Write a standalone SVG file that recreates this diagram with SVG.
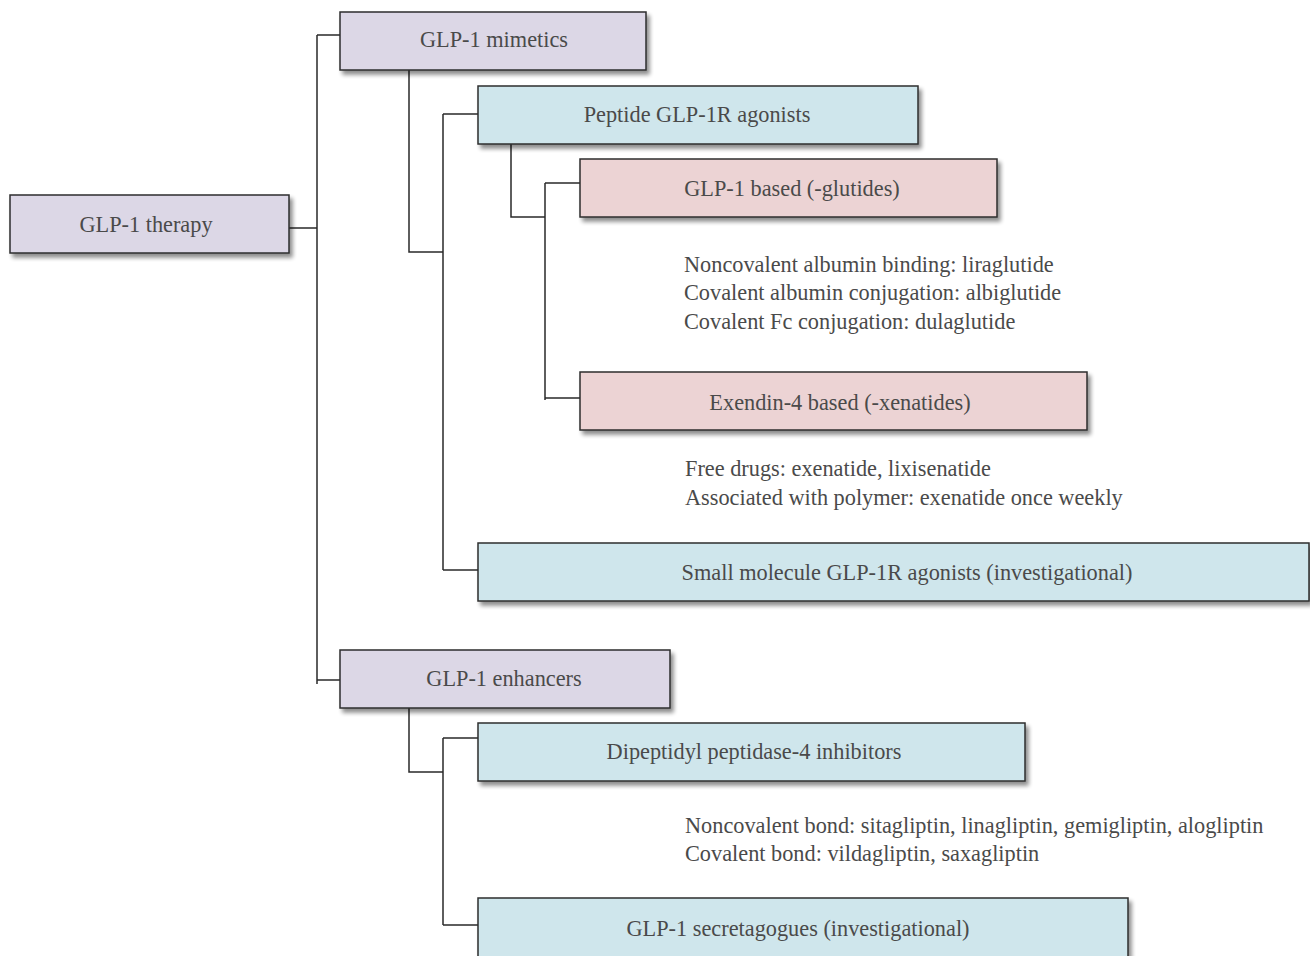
<svg xmlns="http://www.w3.org/2000/svg" width="1310" height="956" viewBox="0 0 1310 956">
<defs>
<filter id="sh" x="-5%" y="-20%" width="115%" height="160%">
<feGaussianBlur in="SourceAlpha" stdDeviation="2"/>
<feOffset dx="3" dy="4" result="b"/>
<feComponentTransfer><feFuncA type="linear" slope="0.45"/></feComponentTransfer>
<feMerge><feMergeNode/><feMergeNode in="SourceGraphic"/></feMerge>
</filter>
</defs>
<style>
.box{stroke:#2e2e2e;stroke-width:1.5;filter:url(#sh)}
.lav{fill:#dcd7e6}
.blu{fill:#cfe6ec}
.pnk{fill:#ecd3d4}
.t{font-family:"Liberation Serif","Times New Roman",serif;font-size:22.3px;fill:#4a4a4a}
.c{text-anchor:middle}
.ln{stroke:#2a2a2a;stroke-width:1.5;fill:none}
</style>
<rect width="1310" height="956" fill="#ffffff"/>
<g id="connectors">
<path class="ln" d="M289,228 H317 M317,35 V684 M317,35 H340 M317,680 H340"/>
<path class="ln" d="M409,70 V252 H443 M443,114 V570 M443,114 H478 M443,570 H478"/>
<path class="ln" d="M511,144 V217 H545 M545,183 V400 M545,183 H580 M545,398 H580"/>
<path class="ln" d="M409,708 V772 H443 M443,738 V925 M443,738 H478 M443,925 H478"/>
</g>
<g id="n-therapy"><rect class="box lav" x="10" y="195" width="279" height="58"/><text class="t c" x="146" y="232">GLP-1 therapy</text></g>
<g id="n-mimetics"><rect class="box lav" x="340" y="12" width="306" height="58"/><text class="t c" x="494" y="47">GLP-1 mimetics</text></g>
<g id="n-peptide"><rect class="box blu" x="478" y="86" width="440" height="58"/><text class="t c" x="697" y="122">Peptide GLP-1R agonists</text></g>
<g id="n-glp1based"><rect class="box pnk" x="580" y="159" width="417" height="58"/><text class="t c" x="792" y="196">GLP-1 based (-glutides)</text></g>
<g id="n-glp1based-notes"><text class="t" x="684" y="272">Noncovalent albumin binding: liraglutide</text><text class="t" x="684" y="300">Covalent albumin conjugation: albiglutide</text><text class="t" x="684" y="329">Covalent Fc conjugation: dulaglutide</text></g>
<g id="n-exendin"><rect class="box pnk" x="580" y="372" width="507" height="58"/><text class="t c" x="840" y="410">Exendin-4 based (-xenatides)</text></g>
<g id="n-exendin-notes"><text class="t" x="685" y="476">Free drugs: exenatide, lixisenatide</text><text class="t" x="685" y="505">Associated with polymer: exenatide once weekly</text></g>
<g id="n-small"><rect class="box blu" x="478" y="543" width="831" height="58"/><text class="t c" x="907" y="580">Small molecule GLP-1R agonists (investigational)</text></g>
<g id="n-enhancers"><rect class="box lav" x="340" y="650" width="330" height="58"/><text class="t c" x="504" y="686">GLP-1 enhancers</text></g>
<g id="n-dpp4"><rect class="box blu" x="478" y="723" width="547" height="58"/><text class="t c" x="754" y="759">Dipeptidyl peptidase-4 inhibitors</text></g>
<g id="n-dpp4-notes"><text class="t" x="685" y="833">Noncovalent bond: sitagliptin, linagliptin, gemigliptin, alogliptin</text><text class="t" x="685" y="861">Covalent bond: vildagliptin, saxagliptin</text></g>
<g id="n-secretagogues"><rect class="box blu" x="478" y="898" width="650" height="70"/><text class="t c" x="798" y="936">GLP-1 secretagogues (investigational)</text></g>
</svg>
